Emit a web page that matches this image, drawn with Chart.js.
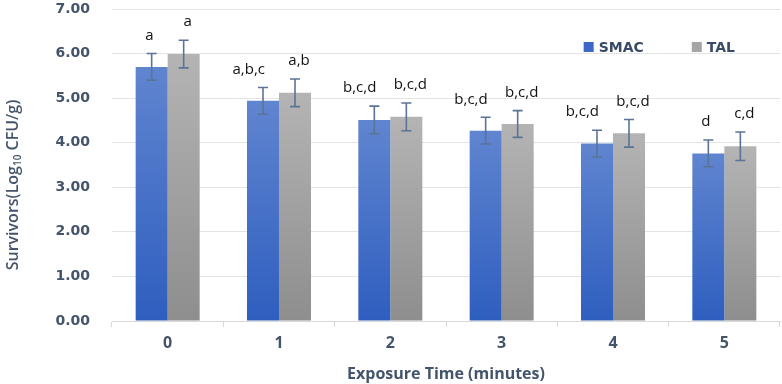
<!DOCTYPE html>
<html>
<head>
<meta charset="utf-8">
<script src="https://cdn.jsdelivr.net/npm/chart.js@4/dist/chart.umd.min.js"></script>
<style>
  html, body { margin: 0; padding: 0; background: #fff; }
  #wrap { width: 782px; height: 384px; }
</style>
</head>
<body>
<div id="wrap"><canvas id="survChart" width="782" height="384"></canvas></div>
<script>
// Data
const exposureTimes = ['0', '1', '2', '3', '4', '5'];
const seriesNames = ['SMAC', 'TAL'];
const smacValues = [5.70, 4.94, 4.51, 4.27, 3.98, 3.76];
const talValues = [5.99, 5.12, 4.58, 4.42, 4.21, 3.92];
const smacErrors = [0.30, 0.30, 0.31, 0.30, 0.30, 0.30];
const talErrors = [0.31, 0.31, 0.31, 0.30, 0.31, 0.32];
const smacLetters = ['a', 'a,b,c', 'b,c,d', 'b,c,d', 'b,c,d', 'd'];
const talLetters = ['a', 'a,b', 'b,c,d', 'b,c,d', 'b,c,d', 'c,d'];
const yTicks = [0, 1, 2, 3, 4, 5, 6, 7];

const slate = '#44546A';

// gradient per bar, lighter at the top
function barGradient(ctx, top, bottom) {
    return function(context) {
        const chart = context.chart;
        const yScale = chart.scales.y;
        if (!chart.chartArea || !yScale || context.parsed === undefined) return bottom;
        const yTop = yScale.getPixelForValue(context.parsed.y);
        const yBot = yScale.getPixelForValue(0);
        const g = chart.ctx.createLinearGradient(0, yTop, 0, yBot);
        g.addColorStop(0, top);
        g.addColorStop(1, bottom);
        return g;
    };
}

// error bars + significance letters
const errorBarPlugin = {
    id: 'errorBars',
    afterDatasetsDraw(chart) {
        const ctx = chart.ctx;
        const y = chart.scales.y;
        chart.data.datasets.forEach((ds, di) => {
            const meta = chart.getDatasetMeta(di);
            meta.data.forEach((bar, i) => {
                const v = ds.data[i];
                const e = ds.errors[i];
                const yT = y.getPixelForValue(v + e);
                const yB = y.getPixelForValue(v - e);
                ctx.save();
                ctx.strokeStyle = '#5B7396';
                ctx.lineWidth = 1.6;
                ctx.beginPath();
                ctx.moveTo(bar.x, yT); ctx.lineTo(bar.x, yB);
                ctx.moveTo(bar.x - 5, yT); ctx.lineTo(bar.x + 5, yT);
                ctx.moveTo(bar.x - 5, yB); ctx.lineTo(bar.x + 5, yB);
                ctx.stroke();

                ctx.fillStyle = '#111';
                ctx.font = '15px "Open Sans"';
                ctx.textBaseline = 'middle';
                if (di === 0) {
                    ctx.textAlign = 'right';
                    ctx.fillText(ds.letters[i], bar.x + 2, yT - 18);
                } else {
                    ctx.textAlign = 'center';
                    ctx.fillText(ds.letters[i], bar.x + 4, yT - 18);
                }
                ctx.restore();
            });
        });
    }
};

// legend and y title with subscript
const decorPlugin = {
    id: 'decor',
    afterDraw(chart) {
        const ctx = chart.ctx;
        const area = chart.chartArea;
        ctx.save();

        // legend
        ctx.font = 'bold 14px "DejaVu Sans"';
        ctx.textBaseline = 'middle';
        ctx.textAlign = 'left';
        const swatches = ['#3C67C8', '#A5A5A5'];
        const w0 = ctx.measureText(seriesNames[0]).width;
        const w1 = ctx.measureText(seriesNames[1]).width;
        const ly = 47;
        let lx = area.right - 45 - w1 - 5 - 10 - 48 - w0 - 5 - 10;
        [w0, w1].forEach((w, k) => {
            ctx.fillStyle = swatches[k];
            ctx.fillRect(lx, ly - 5, 10, 10);
            ctx.fillStyle = '#3A4B67';
            ctx.fillText(seriesNames[k], lx + 15, ly + 1);
            lx += 15 + w + 48;
        });

        // y axis title
        const parts = [['Survivors(Log', 16], ['10', 10], [' CFU/g)', 16]];
        ctx.fillStyle = slate;
        let total = 0;
        parts.forEach(p => { ctx.font = '600 ' + p[1] + 'px "Open Sans"'; total += ctx.measureText(p[0]).width; });
        ctx.translate(12, (area.top + area.bottom) / 2 + 20);
        ctx.rotate(-Math.PI / 2);
        ctx.textBaseline = 'alphabetic';
        let tx = -total / 2;
        parts.forEach(p => {
            ctx.font = '600 ' + p[1] + 'px "Open Sans"';
            ctx.fillText(p[0], tx, p[1] === 10 ? 9 : 6);
            tx += ctx.measureText(p[0]).width;
        });
        ctx.restore();
    }
};

const ctx = document.getElementById('survChart').getContext('2d');
const survChart = new Chart(ctx, {
    type: 'bar',
    data: {
        labels: exposureTimes,
        datasets: [
            {
                label: seriesNames[0],
                data: smacValues,
                errors: smacErrors,
                letters: smacLetters,
                backgroundColor: barGradient(ctx, '#6085D0', '#2E5EBF')
            },
            {
                label: seriesNames[1],
                data: talValues,
                errors: talErrors,
                letters: talLetters,
                backgroundColor: barGradient(ctx, '#B4B4B4', '#8E8E8E')
            }
        ]
    },
    options: {
        responsive: false,
        animation: false,
        categoryPercentage: 0.575,
        barPercentage: 1.0,
        layout: { padding: { top: 9, right: 2, left: 0, bottom: 0 } },
        plugins: {
            legend: { display: false },
            tooltip: { enabled: false }
        },
        scales: {
            x: {
                afterFit(scale) { scale.height = 63; },
                grid: {
                    display: true,
                    drawOnChartArea: false,
                    offset: true,
                    tickLength: 6,
                    color: '#D9D9D9'
                },
                border: { color: '#D9D9D9' },
                ticks: {
                    color: slate,
                    padding: 7,
                    font: { family: 'Open Sans', size: 16, weight: 'bold' }
                },
                title: {
                    display: true,
                    text: 'Exposure Time (minutes)',
                    color: slate,
                    padding: { top: 0, bottom: 0 },
                    font: { family: 'Open Sans', size: 16, weight: 'bold' }
                }
            },
            y: {
                min: 0,
                max: 7,
                afterFit(scale) { scale.width = 112; },
                afterBuildTicks(scale) { scale.ticks = yTicks.map(v => ({ value: v })); },
                grid: { color: '#E3E3E3', drawTicks: true, tickLength: 22, tickColor: 'rgba(0,0,0,0)' },
                border: { display: false },
                ticks: {
                    color: slate,
                    padding: 0,
                    font: { family: 'DejaVu Sans', size: 14, weight: 'bold' },
                    callback: function(value) { return Number(value).toFixed(2); }
                }
            }
        }
    },
    plugins: [errorBarPlugin, decorPlugin]
});
</script>
</body>
</html>
